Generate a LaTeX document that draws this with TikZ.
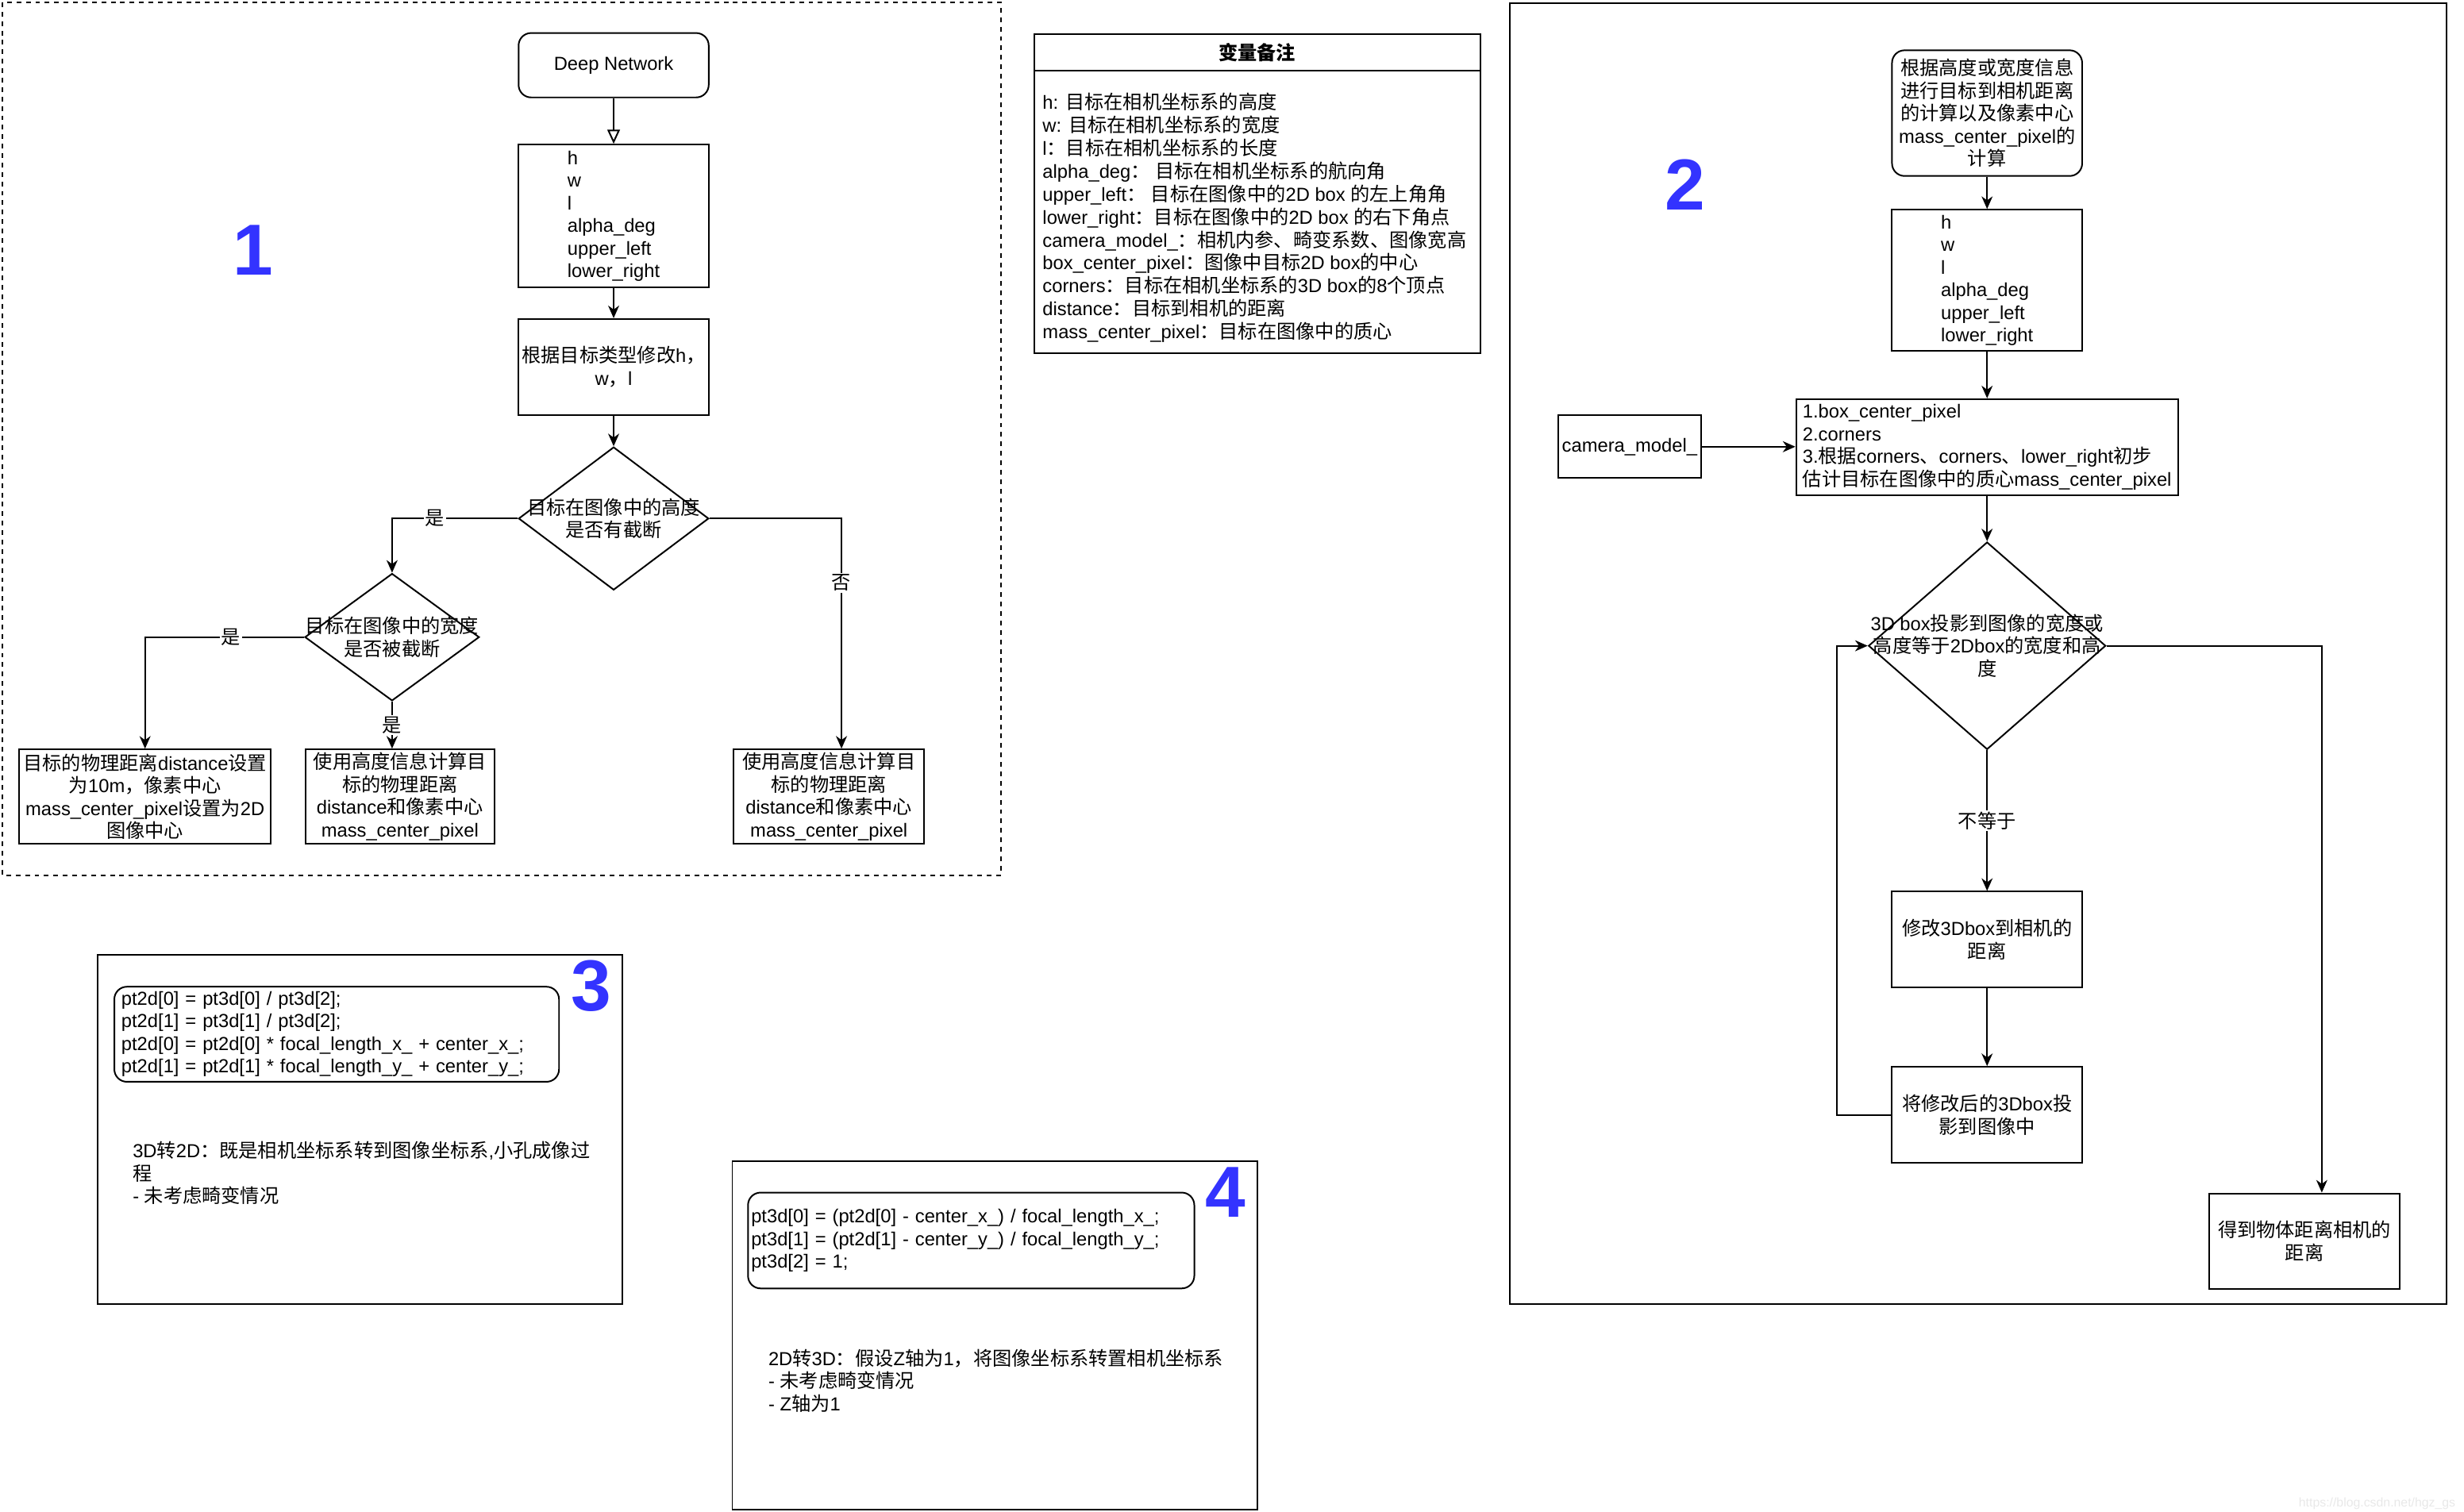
\documentclass[tikz,border=0pt]{standalone}
\usepackage{fontspec}
\setmainfont{Liberation Sans}
\newfontfamily\lat{Liberation Sans}
\newfontfamily\cjk[Scale=1.02]{Noto Sans CJK SC}
\usetikzlibrary{arrows.meta,shapes.geometric}
\definecolor{numblue}{RGB}{51,51,255}

% switch to the CJK font for Chinese characters and punctuation
\XeTeXinterchartokenstate=1
\newXeTeXintercharclass\cjkcls
\newcount\chcnt
\chcnt="3000 \loop\XeTeXcharclass\chcnt=\cjkcls\advance\chcnt by 1 \ifnum\chcnt<"3040 \repeat
\chcnt="4E00 \loop\XeTeXcharclass\chcnt=\cjkcls\advance\chcnt by 1 \ifnum\chcnt<"A000 \repeat
\chcnt="FF00 \loop\XeTeXcharclass\chcnt=\cjkcls\advance\chcnt by 1 \ifnum\chcnt<"FFF0 \repeat
\XeTeXinterchartoks 0 \cjkcls={\cjk}
\XeTeXinterchartoks 4095 \cjkcls={\cjk}
\XeTeXinterchartoks \cjkcls 0={\lat}
\XeTeXinterchartoks \cjkcls 4095={\lat}

\begin{document}
\begin{tikzpicture}[x=1pt, y=-1pt, line width=1pt,
    font=\fontsize{12}{14.4}\selectfont,
    blk/.style={draw, rectangle, inner sep=2pt, align=center},
    rblk/.style={blk, rounded corners=8pt},
    dec/.style={draw, diamond, inner sep=0pt},
    txt/.style={inner sep=0pt, align=left},
    lbl/.style={fill=white, inner sep=1pt},
    num/.style={inner sep=0pt, text=numblue, font=\bfseries\fontsize{46}{46}\selectfont},
    arr/.style={-{Stealth[length=8pt, width=7pt, inset=2.5pt]}}]
    \useasboundingbox (0,0) rectangle (1568,962);

    % Part 1: from the network output to distance
    \draw[dash pattern=on 3pt off 3pt] (1.5,1.5) rectangle (637,557);
    \node[num] at (161,159) {1};
    \node[rblk, minimum width=121pt, minimum height=41pt] (dn) at (390.5,41.5) {Deep Network};
    \node[blk, align=left, minimum width=121pt, minimum height=91pt] (l1) at (390.5,137.5) {h\\w\\l\\alpha\_deg\\upper\_left\\lower\_right};
    \node[blk, minimum width=121pt, minimum height=61pt] (m1) at (390.5,233.5) {根据目标类型修改h，\\w，l};
    \node[dec, minimum width=121pt, minimum height=91pt] (d1) at (390.5,330) {};
    \node[txt, align=center] at (d1) {目标在图像中的高度\\是否有截断};
    \node[dec, minimum width=111pt, minimum height=81pt] (d2) at (249.5,405.5) {};
    \node[txt, align=center] at (d2) {目标在图像中的宽度\\是否被截断};
    \node[blk, minimum width=160pt, minimum height=60pt] (a1) at (92.3,507) {目标的物理距离distance设置\\为10m，像素中心\\mass\_center\_pixel设置为2D\\图像中心};
    \node[blk, minimum width=120pt, minimum height=60pt] (b1) at (254.5,507) {使用高度信息计算目\\标的物理距离\\distance和像素中心\\mass\_center\_pixel};
    \node[blk, minimum width=121pt, minimum height=60pt] (c1) at (527.5,507) {使用高度信息计算目\\标的物理距离\\distance和像素中心\\mass\_center\_pixel};

    \draw[-{Triangle[open, length=9pt, width=8pt]}] (dn) -- (l1);
    \draw[arr] (l1) -- (m1);
    \draw[arr] (m1) -- (d1);
    \draw[arr] (d1.west) -| node[lbl, pos=0.33] {是} (d2.north);
    \draw[arr] (d2.west) -| node[lbl, pos=0.23] {是} (a1.north);
    \draw[arr] (d2.south) -- node[lbl] {是} (d2.south |- b1.north);
    \draw[arr] (d1.east) -| node[lbl, pos=0.64] {否} ([xshift=8pt]c1.north);

    % Variable notes
    \node[draw, outer sep=0pt, minimum width=284pt, minimum height=23.5pt] (th) at (800,33.25) {\bfseries 变量备注};
    \node[draw, outer sep=0pt, minimum width=284pt, minimum height=180pt, anchor=north] (tb) at (th.south) {};
    \node[txt, anchor=west, font=\fontsize{12}{14.6}\selectfont] at ([xshift=5pt, yshift=-3.6pt]tb.west) {h: 目标在相机坐标系的高度\\w: 目标在相机坐标系的宽度\\l：目标在相机坐标系的长度\\alpha\_deg：  目标在相机坐标系的航向角\\upper\_left：  目标在图像中的2D box 的左上角角\\lower\_right：目标在图像中的2D box 的右下角点\\camera\_model\_：相机内参、畸变系数、图像宽高\\box\_center\_pixel：图像中目标2D box的中心\\corners：目标在相机坐标系的3D box的8个顶点\\distance：目标到相机的距离\\mass\_center\_pixel：目标在图像中的质心};

    % Part 2: refining the distance
    \draw (961,2) rectangle (1557,830);
    \node[num] at (1072.5,117.5) {2};
    \node[rblk, minimum width=121pt, minimum height=80pt] (t2) at (1264.5,72) {根据高度或宽度信息\\进行目标到相机距离\\的计算以及像素中心\\mass\_center\_pixel的\\计算};
    \node[blk, align=left, minimum width=121pt, minimum height=90pt] (l2) at (1264.5,178.5) {h\\w\\l\\alpha\_deg\\upper\_left\\lower\_right};
    \node[blk, align=left, minimum width=243pt, minimum height=61pt] (p2) at (1264.5,284.5) {1.box\_center\_pixel\\2.corners\\3.根据corners、corners、lower\_right初步\\估计目标在图像中的质心mass\_center\_pixel};
    \node[blk, minimum width=91pt, minimum height=40pt] (cam) at (1037,284.3) {camera\_model\_};
    \node[dec, minimum width=151pt, minimum height=132pt] (d3) at (1264.5,411) {};
    \node[txt, align=center] at (d3) {3D box投影到图像的宽度或\\高度等于2Dbox的宽度和高\\度};
    \node[blk, minimum width=121pt, minimum height=61pt] (e2) at (1264.5,598) {修改3Dbox到相机的\\距离};
    \node[blk, minimum width=121pt, minimum height=61pt] (f2) at (1264.5,709.5) {将修改后的3Dbox投\\影到图像中};
    \node[blk, minimum width=121pt, minimum height=61pt] (g2) at (1466.5,790) {得到物体距离相机的\\距离};
    \coordinate (lp) at (1169,411);

    \draw[arr] (t2) -- (l2);
    \draw[arr] (l2) -- (p2);
    \draw[arr] (cam.east) -- (cam.east -| p2.west);
    \draw[arr] (p2) -- (d3);
    \draw[arr] (d3) -- node[lbl] {不等于} (e2);
    \draw[arr] (e2) -- (f2);
    \draw[arr] (f2.west) -| (lp) -- (d3.west);
    \draw[arr] (d3.east) -| ([xshift=11pt]g2.north);

    % Part 3: 3D to 2D
    \draw (62,607.5) rectangle (396,830);
    \node[num] at (376,627.5) {3};
    \node[rblk, align=left, text width=274pt, inner xsep=4.5pt, minimum height=60.5pt] (c3) at (214.25,658.25) {pt2d[0] = pt3d[0] / pt3d[2];\\pt2d[1] = pt3d[1] / pt3d[2];\\pt2d[0] = pt2d[0] * focal\_length\_x\_ + center\_x\_;\\pt2d[1] = pt2d[1] * focal\_length\_y\_ + center\_y\_;};
    \node[txt, anchor=west] at (84,746.7) {3D转2D：既是相机坐标系转到图像坐标系,小孔成像过\\程\\- 未考虑畸变情况};

    % Part 4: 2D to 3D
    \draw (466,739) rectangle (800,961);
    \node[num] at (780,759) {4};
    \node[rblk, align=left, text width=280pt, inner xsep=2pt, minimum height=61pt] (c4) at (618,789.5) {pt3d[0] = (pt2d[0] - center\_x\_) / focal\_length\_x\_;\\pt3d[1] = (pt2d[1] - center\_y\_) / focal\_length\_y\_;\\pt3d[2] = 1;};
    \node[txt, anchor=west] at (488.5,878.6) {2D转3D：假设Z轴为1，将图像坐标系转置相机坐标系\\- 未考虑畸变情况\\- Z轴为1};

    % Watermark
    \node[txt, anchor=east, text=black!9, font=\fontsize{8}{8}\selectfont] at (1563,957) {https://blog.csdn.net/hgz\_gs};
\end{tikzpicture}
\end{document}
